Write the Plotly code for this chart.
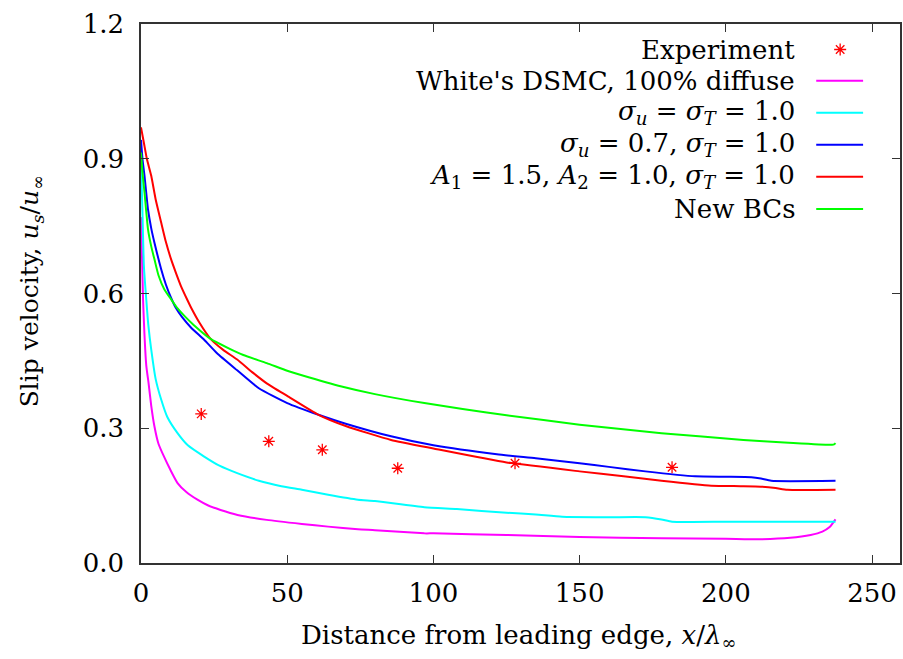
import plotly.graph_objects as go

# ---------------- data ----------------
exp_x = [20.6, 43.7, 62.0, 87.8, 127.9, 181.6]
exp_y = [0.332, 0.271, 0.252, 0.211, 0.222, 0.213]

white_x = [0, 0.7, 1.8, 2.6, 3.5, 4.6, 6, 8, 10, 12.5, 15.5, 19.3, 23, 27.2, 33, 43, 55, 64, 74.2, 80,
           96.9, 100, 125, 150, 178, 200, 212, 222, 229, 233, 235.5, 237.5]
white_y = [0.77, 0.587, 0.44, 0.40, 0.35, 0.304, 0.265, 0.235, 0.208, 0.178, 0.158, 0.141, 0.128, 0.118,
           0.107, 0.096, 0.087, 0.081, 0.075, 0.073, 0.066, 0.066, 0.0625, 0.058, 0.055, 0.054, 0.053,
           0.056, 0.0625, 0.07, 0.08, 0.097]

s1_x = [0, 0.5, 1.0, 1.8, 2.5, 3.5, 5, 6.9, 9, 12.5, 16, 21.6, 27, 32.9, 40.3, 48, 55, 64, 74.2, 80,
        96.9, 108, 125, 135, 144, 160, 172.5, 178, 181.6, 200, 220, 237.5]
s1_y = [0.90, 0.78, 0.66, 0.587, 0.53, 0.475, 0.41, 0.364, 0.325, 0.289, 0.262, 0.237, 0.216, 0.200,
        0.183, 0.171, 0.163, 0.152, 0.141, 0.138, 0.124, 0.120, 0.112, 0.108, 0.103, 0.102, 0.102,
        0.097, 0.092, 0.092, 0.092, 0.092]

s07_x = [0, 0.5, 1.2, 2.4, 3.5, 4.6, 6.9, 8.5, 10.3, 12, 14, 17, 21.6, 26, 32.9, 40.3, 50, 60.7, 70,
         85.5, 100, 121.7, 135, 150, 160, 172.5, 189.5, 200, 208.7, 212, 215.5, 237.5]
s07_y = [0.942, 0.90, 0.862, 0.787, 0.745, 0.713, 0.654, 0.62, 0.590, 0.567, 0.548, 0.525, 0.497, 0.467,
         0.429, 0.389, 0.356, 0.330, 0.310, 0.282, 0.262, 0.242, 0.233, 0.222, 0.214, 0.204, 0.193,
         0.192, 0.191, 0.188, 0.183, 0.183]

a_x = [0, 1, 2, 3.5, 5, 6.9, 8.5, 10.3, 12, 13.7, 15.9, 17.1, 20, 23.8, 28, 32.9, 38, 43, 50, 60.7,
       70, 85.5, 100, 125, 150, 165, 178, 195, 205, 212, 217, 221, 237.5]
a_y = [0.970, 0.935, 0.90, 0.862, 0.81, 0.758, 0.715, 0.676, 0.645, 0.616, 0.585, 0.569, 0.535, 0.499,
       0.475, 0.453, 0.425, 0.400, 0.372, 0.330, 0.305, 0.274, 0.255, 0.224, 0.204, 0.193, 0.183, 0.172,
       0.171, 0.170, 0.167, 0.163, 0.163]

new_x = [0, 0.5, 1.2, 2.4, 3.5, 4.6, 6, 8, 10.3, 12, 15, 18, 23.8, 30, 35, 43, 50, 55, 68.6, 80, 96.9,
         110, 125, 150, 178, 206, 220, 234.7, 237, 237.5]
new_y = [0.914, 0.87, 0.825, 0.743, 0.705, 0.676, 0.64, 0.609, 0.587, 0.571, 0.549, 0.530, 0.499, 0.478,
         0.463, 0.445, 0.428, 0.418, 0.393, 0.376, 0.356, 0.343, 0.329, 0.308, 0.289, 0.274, 0.268,
         0.263, 0.264, 0.267]

x_ticks = [0, 50, 100, 150, 200, 250]
y_ticks = [0.0, 0.3, 0.6, 0.9, 1.2]

series = [
    ("White's DSMC, 100% diffuse", white_x, white_y, "#ff00ff"),
    ("<i>σ</i><sub><i>u</i></sub> = <i>σ</i><sub><i>T</i></sub> = 1.0", s1_x, s1_y, "#00ffff"),
    ("<i>σ</i><sub><i>u</i></sub> = 0.7, <i>σ</i><sub><i>T</i></sub> = 1.0", s07_x, s07_y, "#0000ff"),
    ("<i>A</i><sub>1</sub> = 1.5, <i>A</i><sub>2</sub> = 1.0, <i>σ</i><sub><i>T</i></sub> = 1.0", a_x, a_y, "#ff0000"),
    ("New BCs", new_x, new_y, "#00ff00"),
]

FONT = "DejaVu Serif"
FS = 26

fig = go.Figure()
for name, xs, ys, col in series:
    fig.add_trace(go.Scatter(x=xs, y=ys, mode="lines",
                             line=dict(color=col, width=2, shape="spline", smoothing=0.5),
                             name=name, showlegend=False))
fig.add_trace(go.Scatter(x=exp_x, y=exp_y, mode="markers", name="Experiment", showlegend=False,
                         marker=dict(symbol="asterisk-open", size=10, color="#ff0000",
                                     line=dict(color="#ff0000", width=1.3))))

# plot frame in pixels
L, R, T, B = 141, 902, 24, 563
W, H = R - L, B - T
XMAX = 250 * W / (874 - L)   # x=250 tick sits at pixel 874; frame continues to the right edge
def px(x): return (x - L) / W
def py(y): return (B - y) / H

# custom legend (text right-aligned, sample on the right)
rows = [49.5, 80.7, 112.7, 144.7, 176.7, 209]
labels = ["Experiment"] + [s[0] for s in series]
annotations = []
shapes = []
for i, lab in enumerate(labels):
    annotations.append(dict(x=px(799), y=py(rows[i]), xref="paper", yref="paper", text=lab,
                            showarrow=False, xanchor="right", yanchor="middle",
                            font=dict(family=FONT, size=FS, color="black")))
    if i > 0:
        shapes.append(dict(type="line", xref="paper", yref="paper", x0=px(818), x1=px(865),
                           y0=py(rows[i]), y1=py(rows[i]), line=dict(color=series[i - 1][3], width=2)))
fig.add_trace(go.Scatter(x=[px(842)], y=[py(rows[0])], xaxis="x2", yaxis="y2", mode="markers",
                         showlegend=False, hoverinfo="skip",
                         marker=dict(symbol="asterisk-open", size=10, color="#ff0000",
                                     line=dict(color="#ff0000", width=1.3))))

annotations.append(dict(x=px(31), y=py(291), xref="paper", yref="paper",
                        text="Slip velocity, <i>u</i><sub><i>s</i></sub>/<i>u</i><sub>∞</sub>",
                        textangle=-90, showarrow=False, xanchor="center", yanchor="middle",
                        font=dict(family=FONT, size=25, color="black")))
annotations.append(dict(x=px(520), y=py(636), xref="paper", yref="paper",
                        text="Distance from leading edge, <i>x</i>/<i>λ</i><sub>∞</sub>",
                        showarrow=False, xanchor="center", yanchor="middle",
                        font=dict(family=FONT, size=FS, color="black")))

axis_common = dict(showline=True, linecolor="#333333", linewidth=1.5, mirror="allticks",
                   ticks="inside", ticklen=8, tickwidth=1.2, tickcolor="#333333",
                   showgrid=False, zeroline=False,
                   tickfont=dict(family=FONT, size=FS, color="black"))

fig.update_layout(
    width=903, height=659,
    margin=dict(l=L, r=903 - R, t=T, b=659 - B),
    paper_bgcolor="white", plot_bgcolor="white",
    font=dict(family=FONT, size=FS, color="black"),
    xaxis=dict(range=[0, XMAX], tickvals=x_ticks, ticktext=[str(v) for v in x_ticks],
               ticklabelstandoff=6, **axis_common),
    yaxis=dict(range=[0, 1.2], tickvals=y_ticks, ticktext=[f"{v:.1f}" for v in y_ticks],
               ticklabelstandoff=10, **axis_common),
    xaxis2=dict(overlaying="x", range=[0, 1], visible=False),
    yaxis2=dict(overlaying="y", range=[0, 1], visible=False),
    annotations=annotations, shapes=shapes,
    showlegend=False,
)

fig.write_html("out.html")
